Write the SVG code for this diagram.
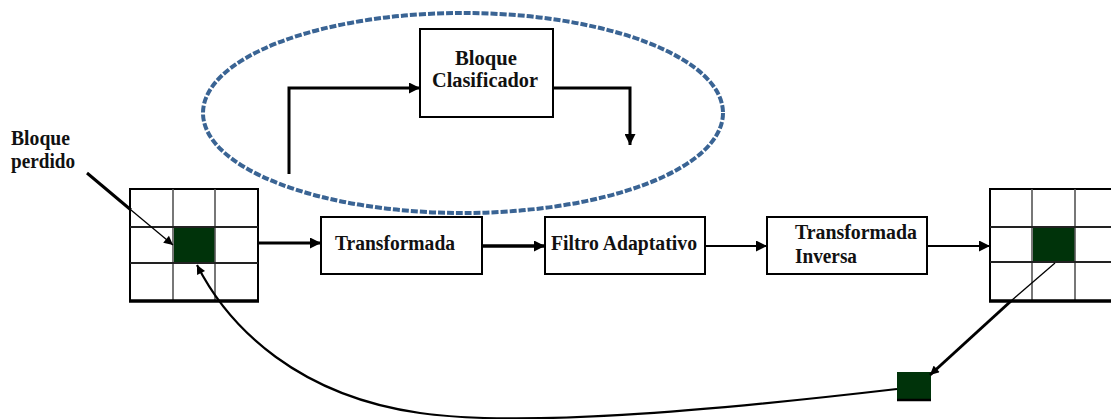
<svg xmlns="http://www.w3.org/2000/svg" width="1111" height="419" viewBox="0 0 1111 419">
<style>
  .box { fill: #fff; stroke: #000; stroke-width: 2; }
  .lbl { font-family: "Liberation Serif", "Times New Roman", serif; font-weight: bold; font-size: 20px; fill: #111; }
  .gout { fill: #fff; stroke: #000; stroke-width: 2; }
  .gcol { stroke: #555; stroke-width: 1.6; }
  .grow { stroke: #222; stroke-width: 1.8; }
  .gbot { stroke: #000; stroke-width: 3.5; }
  .dark { fill: #00330a; }
  .conn { fill: none; stroke: #000; stroke-linejoin: miter; }
</style>
<defs>
  <marker id="ah" viewBox="0 0 10 10" refX="10" refY="5" markerWidth="12" markerHeight="11" markerUnits="userSpaceOnUse" orient="auto">
    <path d="M0,0 L10,5 L0,10 z" fill="#000"/>
  </marker>
  <marker id="ahs" viewBox="0 0 10 10" refX="10" refY="5" markerWidth="11" markerHeight="9" markerUnits="userSpaceOnUse" orient="auto">
    <path d="M0,0 L10,5 L0,10 z" fill="#000"/>
  </marker>
</defs>
<rect width="1111" height="419" fill="#fff"/>

<g id="grupo-clasificador">
  <ellipse cx="463" cy="113" rx="260" ry="100" fill="none" stroke="#3a6494" stroke-width="4" stroke-dasharray="7 2"/>
</g>

<g id="rejilla-entrada">
  <rect class="gout" x="130" y="189" width="128" height="112"/>
  <rect class="dark" x="174" y="227" width="41" height="36"/>
  <line class="gcol" x1="173" y1="189" x2="173" y2="301"/>
  <line class="gcol" x1="215" y1="189" x2="215" y2="301"/>
  <line class="grow" x1="130" y1="227" x2="258" y2="227"/>
  <line class="grow" x1="130" y1="263" x2="258" y2="263"/>
  <line class="gbot" x1="129" y1="301" x2="259" y2="301"/>
</g>

<g id="rejilla-salida">
  <rect class="gout" x="990" y="189" width="127" height="112"/>
  <rect class="dark" x="1033" y="227" width="42" height="35"/>
  <line class="gcol" x1="1032" y1="189" x2="1032" y2="301"/>
  <line class="gcol" x1="1075" y1="189" x2="1075" y2="301"/>
  <line class="grow" x1="990" y1="227" x2="1117" y2="227"/>
  <line class="grow" x1="990" y1="262" x2="1117" y2="262" stroke-width="2.6"/>
  <line class="gbot" x1="989" y1="301" x2="1117" y2="301"/>
</g>

<g id="bloque-recuperado">
  <rect class="dark" x="897" y="372" width="34" height="29"/>
  <line x1="897" y1="400" x2="931" y2="400" stroke="#000" stroke-width="2.5"/>
</g>

<g id="etiqueta-bloque-perdido">
  <text class="lbl" x="11" y="145" font-size="18" textLength="59" lengthAdjust="spacingAndGlyphs">Bloque</text>
  <text class="lbl" x="11" y="168" font-size="18" textLength="64" lengthAdjust="spacingAndGlyphs">perdido</text>
</g>

<g id="bloque-clasificador">
  <rect class="box" x="420" y="29" width="133" height="88"/>
  <text class="lbl" x="455" y="65" textLength="62" lengthAdjust="spacingAndGlyphs">Bloque</text>
  <text class="lbl" x="432" y="87" textLength="106" lengthAdjust="spacingAndGlyphs">Clasificador</text>
</g>

<g id="transformada">
  <rect class="box" x="321" y="217" width="161" height="57"/>
  <text class="lbl" x="335" y="250" textLength="120" lengthAdjust="spacingAndGlyphs">Transformada</text>
</g>

<g id="filtro-adaptativo">
  <rect class="box" x="545" y="217" width="160" height="57"/>
  <text class="lbl" x="551" y="250" textLength="146" lengthAdjust="spacingAndGlyphs">Filtro Adaptativo</text>
</g>

<g id="transformada-inversa">
  <rect class="box" x="767" y="217" width="160" height="57"/>
  <text class="lbl" x="795" y="239" textLength="122" lengthAdjust="spacingAndGlyphs">Transformada</text>
  <text class="lbl" x="795" y="263" textLength="62" lengthAdjust="spacingAndGlyphs">Inversa</text>
</g>

<g id="conectores">
  <path class="conn" stroke-width="3" d="M289,174 L289,88 L420,88" marker-end="url(#ah)"/>
  <path class="conn" stroke-width="3" d="M553,88 L630,88 L630,145" marker-end="url(#ah)"/>
  <line class="conn" stroke-width="3" x1="258" y1="243" x2="321" y2="243" marker-end="url(#ah)"/>
  <line class="conn" stroke-width="3.5" x1="482" y1="246" x2="545" y2="246" marker-end="url(#ah)"/>
  <line class="conn" stroke-width="2" x1="705" y1="246" x2="767" y2="246" marker-end="url(#ah)"/>
  <line class="conn" stroke-width="2" x1="927" y1="246" x2="990" y2="246" marker-end="url(#ah)"/>
  <line class="conn" stroke-width="3" x1="87" y1="173" x2="131" y2="210"/>
  <line class="conn" stroke-width="1.3" x1="131" y1="210" x2="173" y2="245" marker-end="url(#ahs)"/>
  <line class="conn" stroke-width="1.3" x1="1055" y1="263" x2="1011" y2="301"/>
  <line class="conn" stroke-width="3" x1="1011" y1="301" x2="930" y2="375" marker-end="url(#ahs)"/>
  <path class="conn" stroke-width="2.2" d="M897,389 C700,412 520,427 420,413 C300,396 230,330 197,265" marker-end="url(#ahs)"/>
</g>
</svg>
